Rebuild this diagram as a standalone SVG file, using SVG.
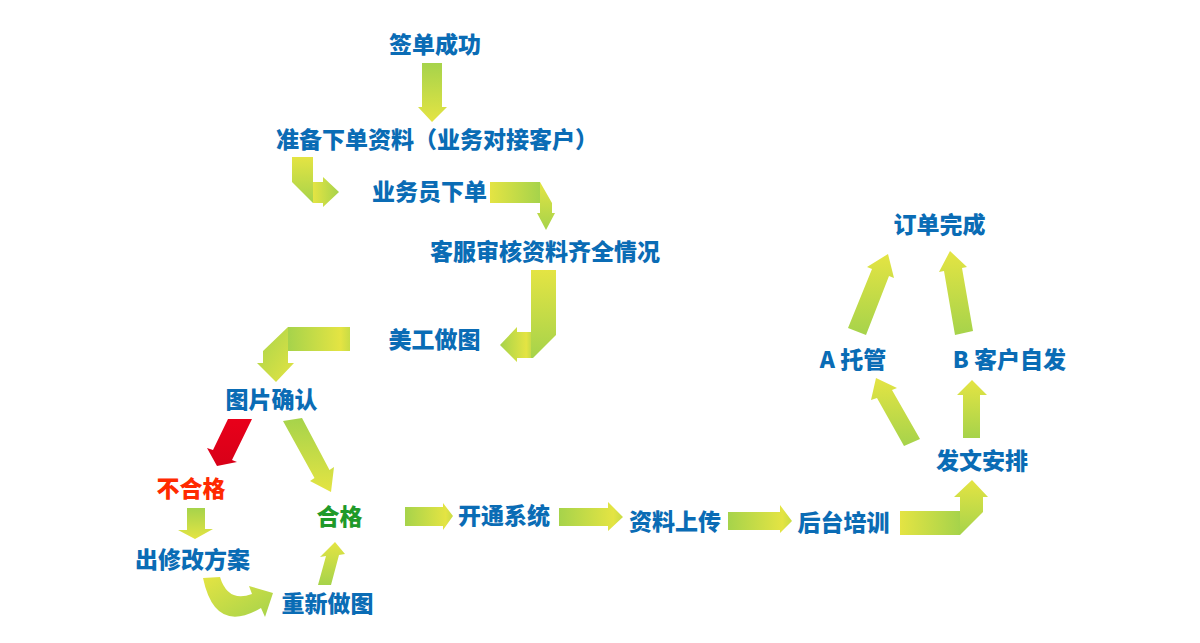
<svg xmlns="http://www.w3.org/2000/svg" width="1200" height="643" viewBox="0 0 1200 643">
<style>
.t{font-family:"Noto Sans CJK SC","Noto Sans",sans-serif;font-weight:900;font-size:23px;fill:#0a6cb5}
.red{fill:#ff2a00}
.grn{fill:#1f9a2a}
</style>
<defs>
<linearGradient id="gDown" x1="0" y1="0" x2="0" y2="1"><stop offset="0" stop-color="#a6d34b"/><stop offset="1" stop-color="#e4e443"/></linearGradient>
<linearGradient id="gYDown" x1="0" y1="0" x2="0" y2="1"><stop offset="0" stop-color="#e4e443"/><stop offset="1" stop-color="#a6d34b"/></linearGradient>
<linearGradient id="gUp" x1="0" y1="1" x2="0" y2="0"><stop offset="0" stop-color="#a6d34b"/><stop offset="1" stop-color="#e4e443"/></linearGradient>
<linearGradient id="gRight" x1="0" y1="0" x2="1" y2="0"><stop offset="0" stop-color="#a6d34b"/><stop offset="0.85" stop-color="#e4e443"/><stop offset="1" stop-color="#c8dc46"/></linearGradient>
<linearGradient id="gYRight" x1="0" y1="0" x2="1" y2="0"><stop offset="0" stop-color="#e4e443"/><stop offset="1" stop-color="#a6d34b"/></linearGradient>
<linearGradient id="gDiag" x1="0" y1="0" x2="1" y2="1"><stop offset="0" stop-color="#a6d34b"/><stop offset="1" stop-color="#e4e443"/></linearGradient>
<linearGradient id="gDiagY" x1="0" y1="0" x2="1" y2="1"><stop offset="0" stop-color="#e4e443"/><stop offset="1" stop-color="#a6d34b"/></linearGradient>
<linearGradient id="gRed" x1="0" y1="0" x2="0" y2="1"><stop offset="0" stop-color="#e8001a"/><stop offset="1" stop-color="#d80018"/></linearGradient>
</defs>

<g id="connectors">
  <!-- 签单成功 -> 准备下单资料 -->
  <polygon points="422,63 442,63 442,107 447,107 432,122 418,107 422,107" fill="url(#gDown)"/>
  <!-- 准备 -> 业务员下单 (bent) -->
  <polygon points="292,157 313,157 313,203 292,182" fill="url(#gYDown)"/>
  <polygon points="313,182 323,182 323,177 339,192 323,207 323,203 313,203" fill="url(#gYRight)"/>
  <!-- 业务员下单 -> 客服审核 (bent) -->
  <polygon points="490,182 540,182 540,203 490,203" fill="url(#gYRight)"/>
  <polygon points="540,182 552,203 552,213 555,213 546,230 537,213 540,213" fill="url(#gYDown)"/>
  <!-- 客服审核 -> 美工做图 (bent) -->
  <polygon points="531,270 556,270 556,335 533,358 531,358" fill="url(#gYDown)"/>
  <polygon points="500,345 517,327 517,332 531,332 531,358 517,358 517,362" fill="url(#gRight)"/>
  <!-- 美工做图 -> 图片确认 (bent) -->
  <polygon points="288,327 350,327 350,351 288,351" fill="url(#gRight)"/>
  <polygon points="288,327 288,363 294,363 276,382 257,363 263,363 263,351" fill="url(#gDiag)"/>
  <!-- 图片确认 -> 不合格 (red) -->
  <polygon points="228,419 252,419 232,460 237,462 217,466 207,448 213,450" fill="url(#gRed)"/>
  <!-- 图片确认 -> 合格 -->
  <polygon points="283,421 302,418 329.5,470 334,467 331,492 310,481 314.5,478" fill="url(#gDown)"/>
  <!-- 不合格 -> 出修改方案 -->
  <polygon points="187,508 205,508 205,529 213,529 195,539 178,530 187,530" fill="url(#gDown)"/>
  <!-- 出修改方案 -> 重新做图 (curved) -->
  <path d="M203,578 L220,577 Q228,603 252,594 L249,586 L273,593 L265,617 L261,608 Q215,635 203,578 Z" fill="url(#gDiagY)"/>
  <!-- 重新做图 -> 合格 -->
  <polygon points="318,585 331,585 339,555 345,554 335,542 320,557 326,556" fill="url(#gYDown)"/>
  <!-- 合格 -> 开通系统 -->
  <polygon points="405,507 443,507 443,503 453,516 443,530 443,526 405,526" fill="url(#gRight)"/>
  <!-- 开通系统 -> 资料上传 -->
  <polygon points="559,508 608,508 608,502 623,517 608,531 608,526 559,526" fill="url(#gRight)"/>
  <!-- 资料上传 -> 后台培训 -->
  <polygon points="728,512 780,512 780,505 792,521 780,533 780,530 728,530" fill="url(#gRight)"/>
  <!-- 后台培训 -> 发文安排 (bent) -->
  <polygon points="900,511 960,511 960,535 900,535" fill="url(#gYRight)"/>
  <polygon points="960,535 960,497 954,497 972,480 988,497 983,497 983,512" fill="url(#gUp)"/>
  <!-- 发文安排 -> A 托管 -->
  <polygon points="904,446 920,439 892,390 897,388 876,378 871,400 877,398" fill="url(#gUp)"/>
  <!-- 发文安排 -> B 客户自发 -->
  <polygon points="963,438 963,395 957,395 972,380 987,395 980,395 980,438" fill="url(#gUp)"/>
  <!-- A 托管 -> 订单完成 -->
  <polygon points="848,328 866,335 889,276 894,278 888,254 867,267 872,269" fill="url(#gUp)"/>
  <!-- B 客户自发 -> 订单完成 -->
  <polygon points="955,335 973,331 962,268 967,267 950,251 939,272 944,271" fill="url(#gUp)"/>
</g>

<g id="n-qiandan"><text class="t" x="435" y="53" text-anchor="middle">签单成功</text></g>
<g id="n-zhunbei"><text class="t" x="276" y="148">准备下单资料（业务对接客户）</text></g>
<g id="n-yewuyuan"><text class="t" x="429.5" y="200" text-anchor="middle">业务员下单</text></g>
<g id="n-kefu"><text class="t" x="545" y="260" text-anchor="middle">客服审核资料齐全情况</text></g>
<g id="n-meigong"><text class="t" x="434.5" y="348" text-anchor="middle">美工做图</text></g>
<g id="n-tupian"><text class="t" x="271.5" y="408" text-anchor="middle">图片确认</text></g>
<g id="n-buhege"><text class="t red" x="191" y="497" text-anchor="middle">不合格</text></g>
<g id="n-hege"><text class="t grn" x="339.5" y="525" text-anchor="middle">合格</text></g>
<g id="n-xiugai"><text class="t" x="192.5" y="568" text-anchor="middle">出修改方案</text></g>
<g id="n-chongxin"><text class="t" x="327.5" y="612" text-anchor="middle">重新做图</text></g>
<g id="n-kaitong"><text class="t" x="504" y="524" text-anchor="middle">开通系统</text></g>
<g id="n-shangchuan"><text class="t" x="675" y="530" text-anchor="middle">资料上传</text></g>
<g id="n-peixun"><text class="t" x="843.5" y="531" text-anchor="middle">后台培训</text></g>
<g id="n-fawen"><text class="t" x="982" y="469" text-anchor="middle">发文安排</text></g>
<g id="n-tuoguan"><text class="t" x="853" y="368" text-anchor="middle">A 托管</text></g>
<g id="n-zifa"><text class="t" x="1009.5" y="368" text-anchor="middle">B 客户自发</text></g>
<g id="n-wancheng"><text class="t" x="939.5" y="233" text-anchor="middle">订单完成</text></g>
</svg>
